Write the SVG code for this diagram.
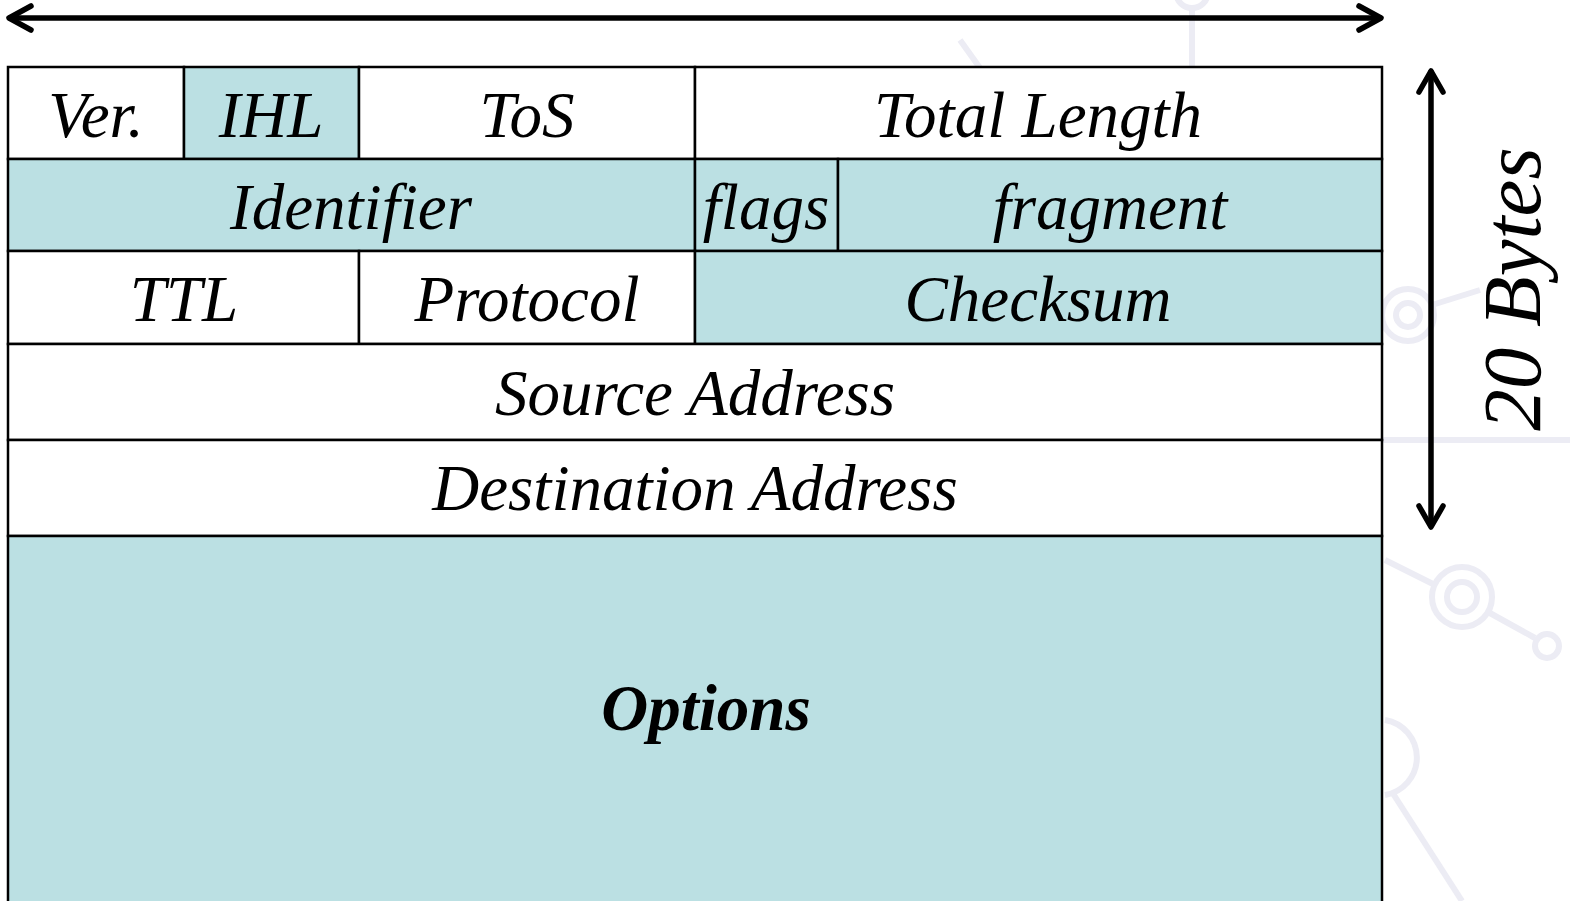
<svg xmlns="http://www.w3.org/2000/svg" width="1570" height="901" viewBox="0 0 1570 901">
  <style>
    .cell { stroke: #000; stroke-width: 2.5; }
    .teal { fill: #bbe0e3; }
    .white { fill: #fff; }
    .lbl { font-family: "Liberation Serif", "Times New Roman", serif; font-style: italic; font-size: 65px; fill: #000; text-anchor: middle; }
    .bold { font-weight: bold; }
    .arrow { stroke: #000; stroke-width: 5.5; fill: none; stroke-linecap: round; stroke-linejoin: round; }
    .bg { stroke: #ececf4; stroke-width: 6; fill: none; }
  </style>
  <rect width="1570" height="901" fill="#fff"/>
  <g id="background">
    <line class="bg" x1="1192" y1="10" x2="1192" y2="70"/>
    <circle class="bg" cx="1192" cy="-8" r="16"/>
    <line class="bg" x1="960" y1="40" x2="980" y2="68"/>
    <circle class="bg" cx="1408" cy="315" r="26"/>
    <circle class="bg" cx="1408" cy="315" r="12"/>
    <line class="bg" x1="1432" y1="305" x2="1480" y2="290"/>
    <line class="bg" x1="1382" y1="440" x2="1570" y2="440"/>
    <line class="bg" x1="1385" y1="560" x2="1435" y2="585"/>
    <circle class="bg" cx="1462" cy="597" r="30"/>
    <circle class="bg" cx="1462" cy="597" r="15"/>
    <line class="bg" x1="1488" y1="612" x2="1535" y2="638"/>
    <circle class="bg" cx="1547" cy="646" r="12"/>
    <path class="bg" d="M1385,720 A38,38 0 0 1 1385,795"/>
    <line class="bg" x1="1392" y1="792" x2="1462" y2="901"/>
  </g>
  <g id="row1">
    <g id="ver"><rect class="cell white" x="8" y="67" width="176" height="92"/><text class="lbl" x="96" y="137">Ver.</text></g>
    <g id="ihl"><rect class="cell teal" x="184" y="67" width="175" height="92"/><text class="lbl" x="271" y="137">IHL</text></g>
    <g id="tos"><rect class="cell white" x="359" y="67" width="336" height="92"/><text class="lbl" x="527" y="137">ToS</text></g>
    <g id="total-length"><rect class="cell white" x="695" y="67" width="687" height="92"/><text class="lbl" x="1038" y="137">Total Length</text></g>
  </g>
  <g id="row2">
    <g id="identifier"><rect class="cell teal" x="8" y="159" width="687" height="92"/><text class="lbl" x="351" y="229">Identifier</text></g>
    <g id="flags"><rect class="cell teal" x="695" y="159" width="143" height="92"/><text class="lbl" x="766" y="229">flags</text></g>
    <g id="fragment"><rect class="cell teal" x="838" y="159" width="544" height="92"/><text class="lbl" x="1110" y="229">fragment</text></g>
  </g>
  <g id="row3">
    <g id="ttl"><rect class="cell white" x="8" y="251" width="351" height="93"/><text class="lbl" x="184" y="321">TTL</text></g>
    <g id="protocol"><rect class="cell white" x="359" y="251" width="336" height="93"/><text class="lbl" x="527" y="321">Protocol</text></g>
    <g id="checksum"><rect class="cell teal" x="695" y="251" width="687" height="93"/><text class="lbl" x="1038" y="321">Checksum</text></g>
  </g>
  <g id="source-address"><rect class="cell white" x="8" y="344" width="1374" height="96"/><text class="lbl" x="695" y="415">Source Address</text></g>
  <g id="destination-address"><rect class="cell white" x="8" y="440" width="1374" height="96"/><text class="lbl" x="695" y="510">Destination Address</text></g>
  <g id="options"><rect class="cell teal" x="8" y="536" width="1374" height="380"/><text class="lbl bold" x="706" y="730">Options</text></g>
  <g id="connectors">
    <line class="arrow" x1="10" y1="18" x2="1380" y2="18"/>
    <polyline class="arrow" points="31,6 9,18 31,30"/>
    <polyline class="arrow" points="1359,6 1381,18 1359,30"/>
    <line class="arrow" x1="1431" y1="72" x2="1431" y2="525"/>
    <polyline class="arrow" points="1419,92 1431,71 1443,92"/>
    <polyline class="arrow" points="1419,506 1431,527 1443,506"/>
  </g>
  <g id="size-label">
    <text class="lbl" style="font-size:83px" transform="translate(1540,289) rotate(-90)" x="0" y="0">20 Bytes</text>
  </g>
</svg>
